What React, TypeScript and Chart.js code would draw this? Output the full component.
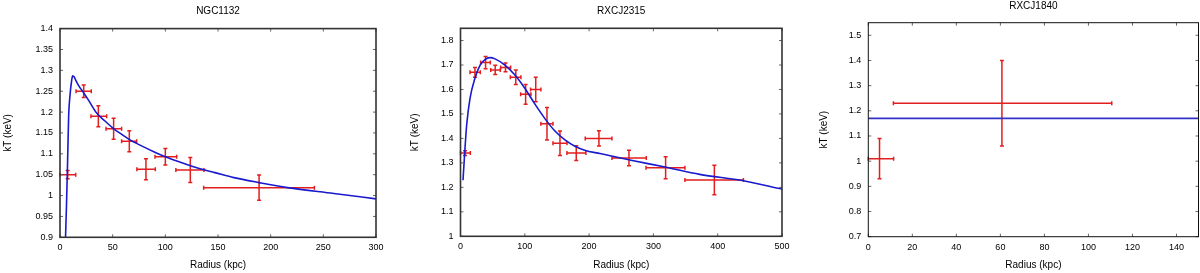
import React, { useEffect, useRef } from "react";
import { Chart, registerables } from "chart.js";

Chart.register(...registerables);

// ---------- Panel 1: NGC1132 ----------
const ngcTitle = "NGC1132";
const ngcR = [7.3, 22.5, 36.4, 50.9, 65.8, 81.6, 100, 123.7, 189];
const ngcRLo = [0, 15.2, 29.4, 43.7, 58.5, 73, 90.2, 110, 136.4];
const ngcRHi = [14.9, 29.7, 44.3, 58.5, 72.8, 90.5, 110.8, 136.7, 241.5];
const ngcT = [1.05, 1.25, 1.19, 1.16, 1.13, 1.063, 1.093, 1.061, 1.019];
const ngcTErr = [0.01, 0.015, 0.025, 0.025, 0.025, 0.025, 0.02, 0.03, 0.03];
const ngcFitR = [5, 6.2, 7.2, 8.2, 9.5, 11, 12, 13.5, 15, 18, 22.2, 27.2, 35, 43, 51, 59, 66, 75, 90, 100, 106, 122, 133, 147, 165, 189, 216, 260, 300];
const ngcFitT = [0.88, 0.98, 1.08, 1.19, 1.24, 1.275, 1.287, 1.284, 1.276, 1.262, 1.247, 1.228, 1.197, 1.178, 1.16, 1.146, 1.134, 1.122, 1.104, 1.093, 1.087, 1.073, 1.064, 1.055, 1.043, 1.031, 1.019, 1.005, 0.992];

// ---------- Panel 2: RXCJ2315 ----------
const rx2315Title = "RXCJ2315";
const rx2315R = [7, 22.5, 39, 54, 70, 86, 101.3, 117, 134.5, 154.7, 180, 215.3, 262, 319, 394.8];
const rx2315RLo = [0, 14.8, 31.3, 47, 62.4, 77.5, 93.5, 109, 125, 143.8, 165.5, 194, 235.6, 288.5, 349];
const rx2315RHi = [15.3, 30.8, 46.4, 62, 78, 94, 109.6, 125, 143.8, 165.6, 195, 235.5, 289, 349, 440];
const rx2315T = [1.34, 1.67, 1.71, 1.68, 1.69, 1.65, 1.58, 1.6, 1.46, 1.38, 1.34, 1.4, 1.32, 1.28, 1.23];
const rx2315TErr = [0.01, 0.02, 0.025, 0.019, 0.018, 0.03, 0.04, 0.05, 0.066, 0.05, 0.03, 0.031, 0.032, 0.045, 0.06];
const rx2315FitR = [3.9, 6, 9.6, 14.8, 22.5, 30.3, 38, 45.9, 53.6, 69, 84.7, 100, 115.8, 131, 146.9, 162.4, 178, 193, 217, 240, 269, 320, 372, 440, 500];
const rx2315FitT = [1.229, 1.319, 1.455, 1.564, 1.646, 1.698, 1.722, 1.73, 1.725, 1.7, 1.659, 1.605, 1.54, 1.482, 1.43, 1.394, 1.368, 1.352, 1.338, 1.325, 1.309, 1.282, 1.253, 1.227, 1.193];

// ---------- Panel 3: RXCJ1840 ----------
const rx1840Title = "RXCJ1840";
const rx1840R = [5.1, 60.7];
const rx1840RLo = [0, 11.4];
const rx1840RHi = [11.5, 110.6];
const rx1840T = [1.01, 1.23];
const rx1840TErr = [0.08, 0.17];
const rx1840FitR = [0, 150];
const rx1840FitT = [1.17, 1.17];

const xAxisTitle = "Radius (kpc)";
const yAxisTitle = "kT (keV)";

const FONT = "'Liberation Sans', Arial, sans-serif";
const RED = "rgb(226,30,30)";
const BLUE = "rgb(25,25,205)";

const errorBarPlugin = {
  id: "errorBars",
  beforeDatasetsDraw(chart: any) {
    const ctx = chart.ctx;
    const xs = chart.scales.x;
    const ys = chart.scales.y;
    chart.data.datasets.forEach((ds: any) => {
      if (!ds.errorBars) return;
      ctx.save();
      ctx.strokeStyle = ds.errorColor;
      ctx.lineWidth = 1.5;
      const cap = 2;
      ds.data.forEach((d: any) => {
        const px = xs.getPixelForValue(d.x);
        const py = ys.getPixelForValue(d.y);
        const x0 = xs.getPixelForValue(d.xMin);
        const x1 = xs.getPixelForValue(d.xMax);
        const y0 = ys.getPixelForValue(d.yMin);
        const y1 = ys.getPixelForValue(d.yMax);
        ctx.beginPath();
        ctx.moveTo(x0, py);
        ctx.lineTo(x1, py);
        ctx.moveTo(px, y0);
        ctx.lineTo(px, y1);
        ctx.moveTo(x0, py - cap);
        ctx.lineTo(x0, py + cap);
        ctx.moveTo(x1, py - cap);
        ctx.lineTo(x1, py + cap);
        ctx.moveTo(px - cap, y0);
        ctx.lineTo(px + cap, y0);
        ctx.moveTo(px - cap, y1);
        ctx.lineTo(px + cap, y1);
        ctx.stroke();
      });
      ctx.restore();
    });
  },
};

const framePlugin = {
  id: "frame",
  afterDraw(chart: any) {
    const opts = chart.options.plugins.frame || {};
    const ctx = chart.ctx;
    const { left, right, top, bottom } = chart.chartArea;
    const xs = chart.scales.x;
    const ys = chart.scales.y;
    ctx.save();
    ctx.strokeStyle = "#666";
    ctx.lineWidth = 1;
    const tl = 3;
    ctx.beginPath();
    xs.ticks.forEach((t: any) => {
      const p = xs.getPixelForValue(t.value);
      ctx.moveTo(p, bottom);
      ctx.lineTo(p, bottom - tl);
      ctx.moveTo(p, top);
      ctx.lineTo(p, top + tl);
    });
    ys.ticks.forEach((t: any) => {
      const p = ys.getPixelForValue(t.value);
      ctx.moveTo(left, p);
      ctx.lineTo(left + tl, p);
      ctx.moveTo(right, p);
      ctx.lineTo(right - tl, p);
    });
    ctx.stroke();
    ctx.strokeStyle = opts.color || "#333";
    ctx.lineWidth = opts.width || 1.5;
    ctx.strokeRect(left, top, right - left, bottom - top);
    ctx.restore();
  },
};

const panelTitlePlugin = {
  id: "panelTitle",
  afterDraw(chart: any) {
    const opts = chart.options.plugins.panelTitle;
    if (!opts) return;
    const ctx = chart.ctx;
    const { left, right } = chart.chartArea;
    ctx.save();
    ctx.font = `10px ${FONT}`;
    ctx.fillStyle = "#000";
    ctx.textAlign = "center";
    ctx.textBaseline = "middle";
    ctx.fillText(opts.text, (left + right) / 2, opts.y);
    ctx.restore();
  },
};

const fmt = (v: any) => String(parseFloat(Number(v).toFixed(2)));

type PanelCfg = {
  title: string;
  titleY: number;
  r: number[];
  rLo: number[];
  rHi: number[];
  t: number[];
  tErr: number[];
  fitR: number[];
  fitT: number[];
  xMax: number;
  xStep: number;
  yMin: number;
  yMax: number;
  yStep: number;
  yWidth: number;
  xHeight: number;
  padTop: number;
  padRight: number;
  yTitlePad: number;
  frameColor: string;
  frameWidth: number;
  lineColor: string;
};

const panels: PanelCfg[] = [
  {
    title: ngcTitle, titleY: 11.7,
    r: ngcR, rLo: ngcRLo, rHi: ngcRHi, t: ngcT, tErr: ngcTErr,
    fitR: ngcFitR, fitT: ngcFitT,
    xMax: 300, xStep: 50, yMin: 0.9, yMax: 1.4, yStep: 0.05,
    yWidth: 60, xHeight: 35.7, padTop: 28.6, padRight: 24, yTitlePad: 2.3,
    frameColor: "#333", frameWidth: 1.6, lineColor: BLUE,
  },
  {
    title: rx2315Title, titleY: 11.7,
    r: rx2315R, rLo: rx2315RLo, rHi: rx2315RHi, t: rx2315T, tErr: rx2315TErr,
    fitR: rx2315FitR, fitT: rx2315FitT,
    xMax: 500, xStep: 100, yMin: 1, yMax: 1.85, yStep: 0.1,
    yWidth: 60.5, xHeight: 36.7, padTop: 28.3, padRight: 18, yTitlePad: 9,
    frameColor: "#333", frameWidth: 1.6, lineColor: BLUE,
  },
  {
    title: rx1840Title, titleY: 6,
    r: rx1840R, rLo: rx1840RLo, rHi: rx1840RHi, t: rx1840T, tErr: rx1840TErr,
    fitR: rx1840FitR, fitT: rx1840FitT,
    xMax: 150, xStep: 20, yMin: 0.7, yMax: 1.55, yStep: 0.1,
    yWidth: 68.3, xHeight: 36.3, padTop: 22.7, padRight: 1.5, yTitlePad: 18.7,
    frameColor: "#111", frameWidth: 1, lineColor: "rgb(50,50,200)",
  },
];

function buildConfig(p: PanelCfg): any {
  const errData = p.r.map((x, i) => ({
    x,
    y: p.t[i],
    xMin: p.rLo[i],
    xMax: p.rHi[i],
    yMin: p.t[i] - p.tErr[i],
    yMax: p.t[i] + p.tErr[i],
  }));
  const fitData = p.fitR.map((x, i) => ({ x, y: p.fitT[i] }));
  return {
    type: "scatter",
    data: {
      datasets: [
        {
          type: "line",
          data: fitData,
          borderColor: p.lineColor,
          borderWidth: 1.6,
          pointRadius: 0,
          showLine: true,
          fill: false,
          tension: 0.3,
          cubicInterpolationMode: "monotone",
          order: 0,
        },
        {
          data: errData,
          errorBars: true,
          errorColor: RED,
          pointRadius: 0,
          showLine: false,
          order: 1,
        },
      ],
    },
    options: {
      responsive: false,
      animation: false,
      devicePixelRatio: 1,
      layout: { padding: { left: 0, right: p.padRight, top: p.padTop, bottom: 0 } },
      plugins: {
        legend: { display: false },
        tooltip: { enabled: false },
        title: { display: false },
        panelTitle: { text: p.title, y: p.titleY },
        frame: { color: p.frameColor, width: p.frameWidth },
      },
      scales: {
        x: {
          type: "linear",
          min: 0,
          max: p.xMax,
          grid: { display: false, drawTicks: false },
          border: { display: false },
          ticks: {
            stepSize: p.xStep,
            includeBounds: false,
            padding: 5,
            color: "#000",
            font: { family: FONT, size: 9 },
            maxRotation: 0,
            callback: fmt,
          },
          title: {
            display: true,
            text: xAxisTitle,
            color: "#000",
            font: { family: FONT, size: 10 },
            padding: { top: 0, bottom: 2 },
          },
          afterFit: (s: any) => {
            s.height = p.xHeight;
          },
        },
        y: {
          type: "linear",
          min: p.yMin,
          max: p.yMax,
          grid: { display: false, drawTicks: false },
          border: { display: false },
          ticks: {
            stepSize: p.yStep,
            includeBounds: false,
            padding: 7,
            color: "#000",
            font: { family: FONT, size: 9 },
            callback: fmt,
          },
          title: {
            display: true,
            text: yAxisTitle,
            color: "#000",
            font: { family: FONT, size: 10 },
            padding: { top: p.yTitlePad, bottom: 0 },
          },
          afterFit: (s: any) => {
            s.width = p.yWidth;
          },
        },
      },
    },
    plugins: [errorBarPlugin, framePlugin, panelTitlePlugin],
  };
}

function Panel({ cfg, left }: { cfg: PanelCfg; left: number }) {
  const ref = useRef<HTMLCanvasElement>(null);
  useEffect(() => {
    const chart = new Chart(ref.current as HTMLCanvasElement, buildConfig(cfg));
    return () => chart.destroy();
  }, [cfg]);
  return (
    <div style={{ position: "absolute", left, top: 0, width: 400, height: 273 }}>
      <canvas ref={ref} width={400} height={273} style={{ display: "block" }} />
    </div>
  );
}

export default function App() {
  return (
    <div
      style={{
        position: "absolute",
        left: 0,
        top: 0,
        width: 1200,
        height: 273,
        background: "#fff",
        overflow: "hidden",
      }}
    >
      {panels.map((p, i) => (
        <Panel key={p.title} cfg={p} left={i * 400} />
      ))}
    </div>
  );
}
